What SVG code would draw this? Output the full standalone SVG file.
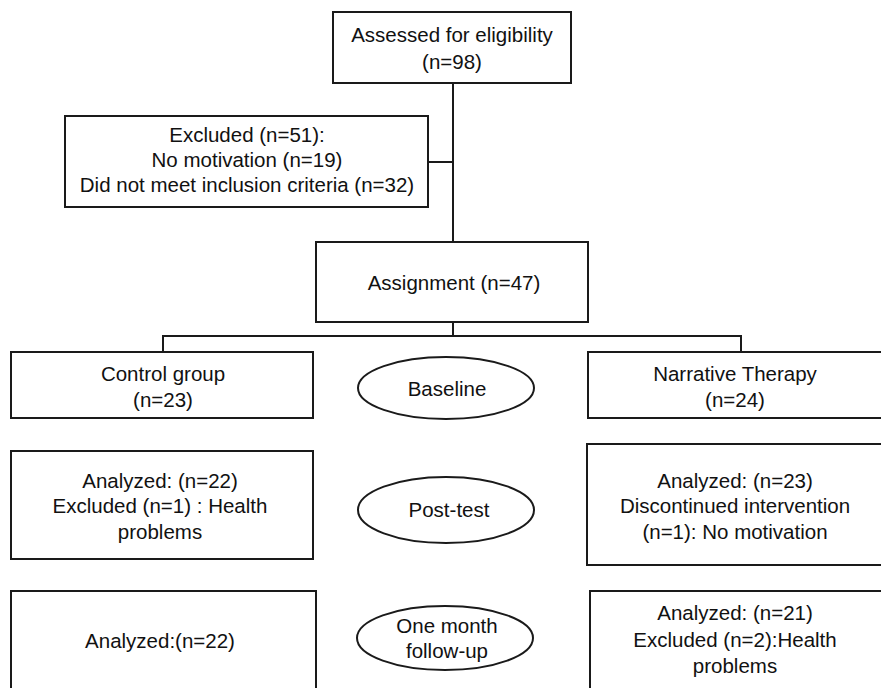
<svg xmlns="http://www.w3.org/2000/svg" width="881" height="688" viewBox="0 0 881 688">
<style>
.b{fill:#fff;stroke:#1a1a1a;stroke-width:2}
.c{fill:none;stroke:#1a1a1a;stroke-width:2}
text{font-family:"Liberation Sans",Arial,sans-serif;font-size:20.5px;fill:#111;text-anchor:middle}
</style>
<rect width="881" height="688" fill="#fff"/>
<g id="connectors">
<path class="c" d="M453 83V242M428 162H453M453 322V336M163 352V336H741V352"/>
</g>
<g id="assessed"><rect class="b" x="333" y="12" width="238" height="71"/><text x="452" y="42">Assessed for eligibility</text><text x="452" y="69">(n=98)</text></g>
<g id="excluded"><rect class="b" x="65" y="116" width="363" height="91"/><text x="247" y="142">Excluded (n=51):</text><text x="247" y="167">No motivation (n=19)</text><text x="247" y="192">Did not meet inclusion criteria (n=32)</text></g>
<g id="assignment"><rect class="b" x="316" y="242" width="272" height="80"/><text x="454" y="290">Assignment (n=47)</text></g>
<g id="control"><rect class="b" x="11" y="352" width="302" height="66"/><text x="163" y="381">Control group</text><text x="163" y="407">(n=23)</text></g>
<g id="baseline"><ellipse class="b" cx="446" cy="388" rx="88" ry="31"/><text x="447" y="396">Baseline</text></g>
<g id="narrative"><rect class="b" x="588" y="352" width="300" height="66"/><text x="735" y="381">Narrative Therapy</text><text x="735" y="407">(n=24)</text></g>
<g id="control-post"><rect class="b" x="11" y="451" width="302" height="108"/><text x="160" y="488">Analyzed: (n=22)</text><text x="160" y="513">Excluded (n=1) : Health</text><text x="160" y="539">problems</text></g>
<g id="posttest"><ellipse class="b" cx="446" cy="510" rx="88" ry="33"/><text x="449" y="517">Post-test</text></g>
<g id="narrative-post"><rect class="b" x="587" y="444" width="300" height="121"/><text x="735" y="488">Analyzed:  (n=23)</text><text x="735" y="513">Discontinued intervention</text><text x="735" y="539">(n=1): No motivation</text></g>
<g id="control-follow"><rect class="b" x="11" y="591" width="305" height="110"/><text x="160" y="648">Analyzed:(n=22)</text></g>
<g id="followup"><ellipse class="b" cx="445" cy="638" rx="88" ry="32"/><text x="447" y="633">One month</text><text x="447" y="658">follow-up</text></g>
<g id="narrative-follow"><rect class="b" x="590" y="591" width="300" height="110"/><text x="735" y="620">Analyzed:  (n=21)</text><text x="735" y="647">Excluded (n=2):Health</text><text x="735" y="673">problems</text></g>
</svg>
